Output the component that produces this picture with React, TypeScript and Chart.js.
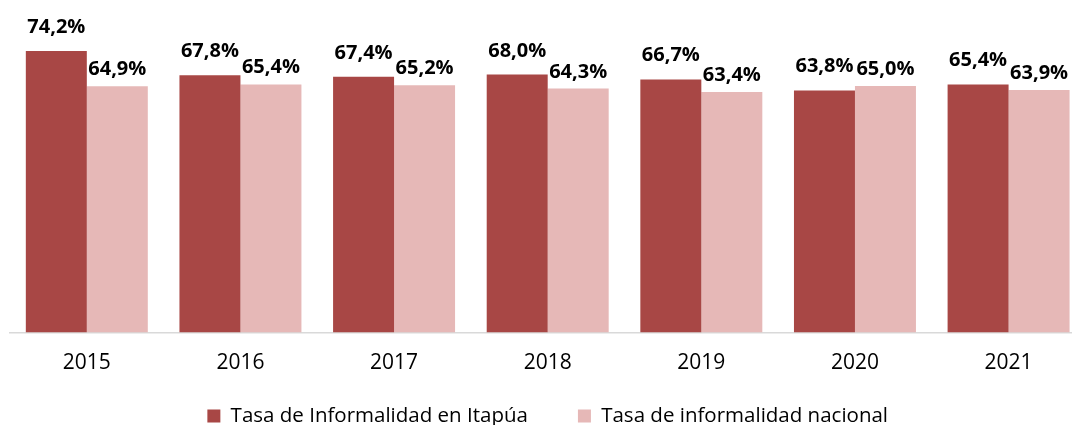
import React, { useEffect, useRef } from "react";
import { Chart, registerables } from "chart.js";

Chart.register(...registerables);

const categories = ["2015", "2016", "2017", "2018", "2019", "2020", "2021"];
const itapuaValues = [74.2, 67.8, 67.4, 68.0, 66.7, 63.8, 65.4];
const nacionalValues = [64.9, 65.4, 65.2, 64.3, 63.4, 65.0, 63.9];
const seriesNames = ["Tasa de Informalidad en Itapúa", "Tasa de informalidad nacional"];

const DARK = "#A84745";
const LIGHT = "#E6B8B7";
const FONT = "'Open Sans', sans-serif";

const labelPlugin = {
  id: "barValueLabels",
  afterDatasetsDraw(chart: any) {
    const ctx = chart.ctx;
    ctx.save();
    ctx.font = `bold 20px ${FONT}`;
    ctx.fillStyle = "#000000";
    ctx.textAlign = "center";
    ctx.textBaseline = "alphabetic";
    chart.data.datasets.forEach((ds: any, di: number) => {
      const meta = chart.getDatasetMeta(di);
      const offset = di === 0 ? 18 : 11;
      meta.data.forEach((el: any, i: number) => {
        const v = ds.data[i] as number;
        const txt = v.toFixed(1).replace(".", ",") + "%";
        ctx.fillText(txt, el.x, el.y - offset);
      });
    });
    ctx.restore();
  },
};

// Pull the legend row up closer to the axis labels (legend spacing is wide horizontally)
const legendShiftPlugin = {
  id: "legendShift",
  afterLayout(chart: any) {
    const lg = chart.legend;
    if (!lg) return;
    const shift = 38;
    lg.top -= shift;
    lg.bottom -= shift;
    if (lg.legendHitBoxes) {
      lg.legendHitBoxes.forEach((h: any) => (h.top -= shift));
    }
  },
};

export default function App() {
  const ref = useRef<HTMLCanvasElement | null>(null);
  useEffect(() => {
    if (!ref.current) return;
    const chart = new Chart(ref.current, {
      type: "bar",
      data: {
        labels: categories,
        datasets: [
          {
            label: seriesNames[0],
            data: itapuaValues,
            backgroundColor: DARK,
            borderWidth: 0,
            categoryPercentage: 0.794,
            barPercentage: 1,
          },
          {
            label: seriesNames[1],
            data: nacionalValues,
            backgroundColor: LIGHT,
            borderWidth: 0,
            categoryPercentage: 0.794,
            barPercentage: 1,
          },
        ],
      },
      options: {
        animation: false,
        responsive: true,
        maintainAspectRatio: false,
        layout: { padding: { top: 29, left: 10, right: 4.6, bottom: 0.8 } },
        scales: {
          x: {
            grid: { display: false, drawTicks: false },
            border: { display: true, color: "#D9D9D9", width: 1.5 },
            ticks: {
              color: "#000000",
              font: { family: FONT, size: 21 },
              padding: 18,
            },
          },
          y: {
            display: false,
            min: 0,
            max: 80,
          },
        },
        plugins: {
          tooltip: { enabled: false },
          legend: {
            position: "bottom",
            labels: {
              color: "#000000",
              font: { family: FONT, size: 20.5 },
              boxWidth: 13,
              boxHeight: 13,
              padding: 50,
            },
          },
        },
      },
      plugins: [labelPlugin, legendShiftPlugin],
    });
    return () => chart.destroy();
  }, []);

  return (
    <div
      style={{
        position: "fixed",
        left: 0,
        top: 0,
        width: 1072,
        height: 425,
        overflow: "hidden",
        background: "#ffffff",
      }}
    >
      <div style={{ position: "relative", width: 1090, height: 475 }}>
        <canvas ref={ref} />
      </div>
    </div>
  );
}
